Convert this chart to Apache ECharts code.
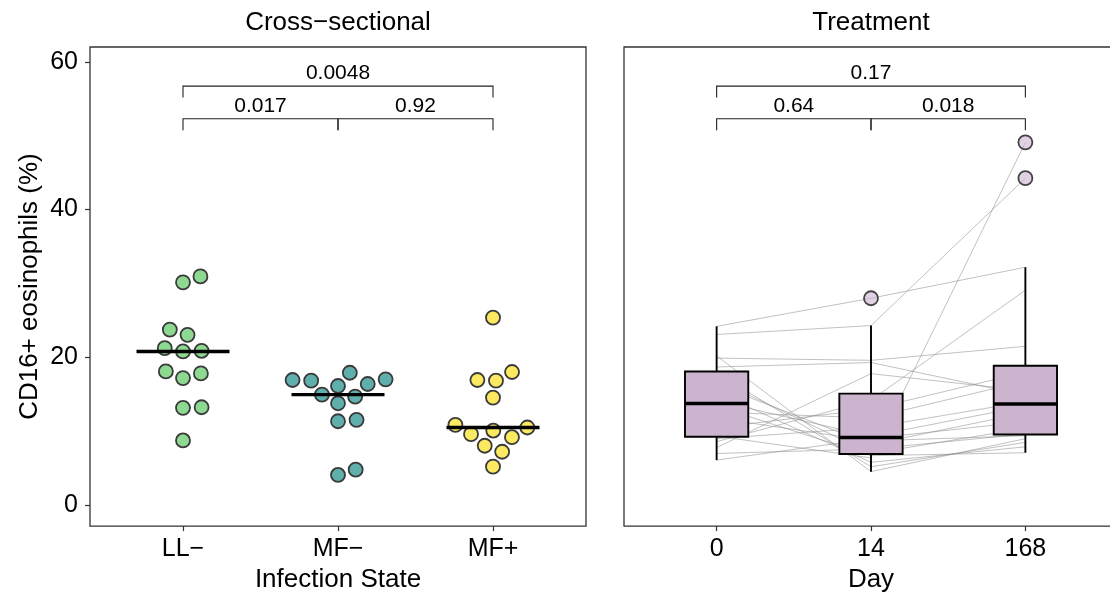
<!DOCTYPE html>
<html>
<head>
<meta charset="utf-8">
<script src="https://cdn.jsdelivr.net/npm/echarts@6/dist/echarts.min.js"></script>
<style>
  html, body { margin: 0; padding: 0; background: #fff; overflow: hidden; width: 1110px; height: 598px; }
  #chart { width: 1130px; height: 598px; }
</style>
</head>
<body>
<div id="chart"></div>
<script>
// ---------------- data ----------------
const panelTitles = ['Cross\u2212sectional', 'Treatment'];
const stateCategories = ['LL\u2212', 'MF\u2212', 'MF+'];
const dayCategories = ['0', '14', '168'];
const yTicks = [0, 20, 40, 60];
const yLabel = 'CD16+ eosinophils (%)';
const xLabelLeft = 'Infection State';
const xLabelRight = 'Day';

// cross-sectional values (%)
const valuesLL = [30.15, 30.96, 23.76, 23.05, 21.25, 20.8, 20.89, 18.1, 17.2, 17.83, 13.17, 13.25, 8.76];
const valuesMFneg = [16.94, 16.85, 16.4, 17.92, 16.13, 17.03, 14.96, 14.69, 13.79, 11.36, 11.55, 4.09, 4.81];
const valuesMFpos = [25.38, 16.94, 16.85, 18.02, 14.56, 10.87, 10.1, 10.51, 9.61, 9.2, 8.04, 7.23, 5.21];

// treatment: paired subject values at day 0, 14, 168
const day0 =   [24.2, 23.1, 9.35, 8.6, 19.9, 18.7, 7.8, 20.2, 17.9, 17.0, 16.3, 15.2, 14.1, 13.4, 12.6, 11.8, 10.5, 9.0, 7.0, 6.1];
const day14 =  [28.0, 24.3, 6.4, 14.2, 19.6, 19.3, 17.8, 4.54, 5.2, 7.0, 8.2, 5.8, 9.32, 6.7, 11.8, 8.7, 13.0, 10.5, 7.6, 9.0];
const day168 = [32.2, 44.25, 49.1, 29.1, 21.5, 14.9, 15.5, 9.0, 8.5, 10.4, 12.5, 7.9, 13.4, 7.1, 16.8, 9.4, 18.0, 14.0, 9.63, 11.3];

// p-value annotations
const pLeft = ['0.017', '0.92', '0.0048'];
const pRight = ['0.64', '0.018', '0.17'];

// ---------------- styling / layout constants ----------------
const FONT = '"Liberation Sans", Arial, Helvetica, sans-serif';
const groupColors = ['#8ED992', '#5FAFAC', '#FBE962'];
const boxFill = '#CDB4CE';
const Y_MIN = -2.83, Y_MAX = 62.0;
const X_MIN = -0.6, X_MAX = 2.6;
const LOW_LEVEL = 52.3, HIGH_LEVEL = 56.7, TICK_LEN = 1.55;
const TICK_FS = 25, TITLE_FS = 26, P_FS = 21;

// ---------------- helpers ----------------
function quantile(sorted, p) {
  const h = (sorted.length - 1) * p;
  const lo = Math.floor(h);
  const hi = Math.min(lo + 1, sorted.length - 1);
  return sorted[lo] + (h - lo) * (sorted[hi] - sorted[lo]);
}
function median(arr) {
  return quantile(arr.slice().sort((a, b) => a - b), 0.5);
}
function boxStats(arr) {
  const s = arr.slice().sort((a, b) => a - b);
  const q1 = quantile(s, 0.25), q3 = quantile(s, 0.75), med = quantile(s, 0.5);
  const iqr = q3 - q1;
  const inside = s.filter(v => v >= q1 - 1.5 * iqr && v <= q3 + 1.5 * iqr);
  return {
    low: inside[0], q1, med, q3, high: inside[inside.length - 1],
    outliers: s.filter(v => v < q1 - 1.5 * iqr || v > q3 + 1.5 * iqr)
  };
}
// beeswarm (swarm method, ascending priority) in data units
const SW_A = 0.12;   // horizontal spacing (category units)
const SW_B = 2.32;   // vertical spacing (y units)
function swarm(values) {
  const order = values.map((v, i) => i).sort((i, j) => values[i] - values[j]);
  const placed = [];
  const offsets = new Array(values.length).fill(0);
  order.forEach(i => {
    const y = values[i];
    const coll = placed.filter(p => Math.abs(p.y - y) < SW_B);
    const cands = [0];
    coll.forEach(p => {
      const dx = SW_A * Math.sqrt(1 - Math.pow((p.y - y) / SW_B, 2));
      cands.push(p.x + dx, p.x - dx);
    });
    const valid = cands.filter(c => coll.every(p =>
      Math.pow((c - p.x) / SW_A, 2) + Math.pow((y - p.y) / SW_B, 2) >= 1 - 1e-6));
    valid.sort((a, b) => (Math.abs(a) - Math.abs(b)) || (b - a));
    const x = valid[0];
    offsets[i] = x;
    placed.push({ x, y });
  });
  return offsets;
}

const groups = [valuesLL, valuesMFneg, valuesMFpos];
const scatterSeries = groups.map((vals, g) => {
  const off = swarm(vals);
  return {
    type: 'scatter', xAxisIndex: 0, yAxisIndex: 0, z: 3,
    symbolSize: 14,
    itemStyle: { color: groupColors[g], borderColor: '#3a3a3a', borderWidth: 1.8, opacity: 1 },
    data: vals.map((v, i) => [g + off[i], v])
  };
});
const medianData = groups.map((vals, g) => [g, median(vals)]);

const days = [day0, day14, day168];
const stats = days.map(boxStats);
const boxData = stats.map((s, i) => [i, s.low, s.q1, s.med, s.q3, s.high]);
const outlierData = [];
stats.forEach((s, i) => s.outliers.forEach(v => outlierData.push([i, v])));
const subjectData = day0.map((v, i) => [v, day14[i], day168[i]]);

const bracketsLeft = [[0, 1, LOW_LEVEL, 0], [1, 2, LOW_LEVEL, 1], [0, 2, HIGH_LEVEL, 2]];
const bracketsRight = [[0, 1, LOW_LEVEL, 0], [1, 2, LOW_LEVEL, 1], [0, 2, HIGH_LEVEL, 2]];

function bracketSeries(axisIdx, data, labels) {
  return {
    type: 'custom', xAxisIndex: axisIdx, yAxisIndex: axisIdx, z: 5,
    data: data,
    renderItem: function (params, api) {
      const a = api.value(0), b = api.value(1), lvl = api.value(2), li = api.value(3);
      const p1 = api.coord([a, lvl]), p2 = api.coord([b, lvl]);
      const t1 = api.coord([a, lvl - TICK_LEN]);
      return {
        type: 'group',
        children: [
          { type: 'polyline', shape: { points: [[p1[0], t1[1]], p1, p2, [p2[0], t1[1]]] },
            style: { stroke: '#222', lineWidth: 1.1, fill: null } },
          { type: 'text', x: (p1[0] + p2[0]) / 2, y: p1[1] - 2,
            style: { text: labels[li], fill: '#000', font: P_FS + 'px ' + FONT,
                     textAlign: 'center', textVerticalAlign: 'bottom' } }
        ]
      };
    }
  };
}

const axisLabelStyle = { color: '#000', fontSize: TICK_FS, fontFamily: FONT };
const nameStyle = { color: '#000', fontSize: TITLE_FS, fontFamily: FONT };
const tickStyle = { show: true, length: 5, inside: false, lineStyle: { color: '#333', width: 1.2 } };

const option = {
  animation: false,
  backgroundColor: '#fff',
  grid: [
    { left: 90, top: 47, width: 496, height: 481, show: true, borderColor: '#333', borderWidth: 1.3, backgroundColor: 'transparent' },
    { left: 624, top: 47, width: 494, height: 481, show: true, borderColor: '#333', borderWidth: 1.3, backgroundColor: 'transparent' }
  ],
  xAxis: [
    { type: 'value', gridIndex: 0, min: X_MIN, max: X_MAX, position: 'bottom',
      axisLine: { show: false, onZero: false }, splitLine: { show: false },
      axisTick: Object.assign({ customValues: [0, 1, 2] }, tickStyle),
      axisLabel: Object.assign({ customValues: [0, 1, 2], margin: 11,
        formatter: v => stateCategories[Math.round(v)] }, axisLabelStyle),
      name: xLabelLeft, nameLocation: 'middle', nameGap: 40, nameTextStyle: nameStyle },
    { type: 'value', gridIndex: 1, min: X_MIN, max: X_MAX, position: 'bottom',
      axisLine: { show: false, onZero: false }, splitLine: { show: false },
      axisTick: Object.assign({ customValues: [0, 1, 2] }, tickStyle),
      axisLabel: Object.assign({ customValues: [0, 1, 2], margin: 11,
        formatter: v => dayCategories[Math.round(v)] }, axisLabelStyle),
      name: xLabelRight, nameLocation: 'middle', nameGap: 40, nameTextStyle: nameStyle }
  ],
  yAxis: [
    { type: 'value', gridIndex: 0, min: Y_MIN, max: Y_MAX, position: 'left',
      axisLine: { show: false, onZero: false }, splitLine: { show: false },
      axisTick: Object.assign({ customValues: yTicks }, tickStyle),
      axisLabel: Object.assign({ customValues: yTicks, margin: 12 }, axisLabelStyle),
      name: yLabel, nameLocation: 'middle', nameGap: 47, nameRotate: 90, nameTextStyle: nameStyle },
    { type: 'value', gridIndex: 1, min: Y_MIN, max: Y_MAX, show: false, splitLine: { show: false } }
  ],
  graphic: [
    { type: 'text', x: 338, y: 23, style: { text: panelTitles[0], fill: '#000', font: TITLE_FS + 'px ' + FONT, textAlign: 'center', textVerticalAlign: 'middle' } },
    { type: 'text', x: 871, y: 23, style: { text: panelTitles[1], fill: '#000', font: TITLE_FS + 'px ' + FONT, textAlign: 'center', textVerticalAlign: 'middle' } }
  ],
  series: [
    ...scatterSeries,
    { type: 'custom', xAxisIndex: 0, yAxisIndex: 0, z: 4, data: medianData,
      renderItem: function (params, api) {
        const g = api.value(0), m = api.value(1);
        const a = api.coord([g - 0.3, m]), b = api.coord([g + 0.3, m]);
        return { type: 'line', shape: { x1: a[0], y1: a[1], x2: b[0], y2: b[1] },
                 style: { stroke: '#000', lineWidth: 3.4 } };
      } },
    bracketSeries(0, bracketsLeft, pLeft),
    // paired subject lines
    { type: 'custom', xAxisIndex: 1, yAxisIndex: 1, z: 1, data: subjectData,
      renderItem: function (params, api) {
        const pts = [0, 1, 2].map(k => api.coord([k, api.value(k)]));
        return { type: 'polyline', shape: { points: pts },
                 style: { stroke: 'rgba(140,140,140,0.6)', lineWidth: 0.9, fill: null } };
      } },
    // boxplots
    { type: 'custom', xAxisIndex: 1, yAxisIndex: 1, z: 2, data: boxData,
      renderItem: function (params, api) {
        const i = api.value(0);
        const lo = api.coord([i, api.value(1)]), q1 = api.coord([i, api.value(2)]);
        const md = api.coord([i, api.value(3)]), q3 = api.coord([i, api.value(4)]);
        const hi = api.coord([i, api.value(5)]);
        const l = api.coord([i - 0.205, 0])[0], r = api.coord([i + 0.205, 0])[0];
        return {
          type: 'group',
          children: [
            { type: 'line', shape: { x1: lo[0], y1: lo[1], x2: q1[0], y2: q1[1] }, style: { stroke: '#000', lineWidth: 1.9 } },
            { type: 'line', shape: { x1: q3[0], y1: q3[1], x2: hi[0], y2: hi[1] }, style: { stroke: '#000', lineWidth: 1.9 } },
            { type: 'rect', shape: { x: l, y: q3[1], width: r - l, height: q1[1] - q3[1] },
              style: { fill: boxFill, stroke: '#000', lineWidth: 1.9 } },
            { type: 'line', shape: { x1: l, y1: md[1], x2: r, y2: md[1] }, style: { stroke: '#000', lineWidth: 3.4 } }
          ]
        };
      } },
    { type: 'scatter', xAxisIndex: 1, yAxisIndex: 1, z: 3, symbolSize: 14, data: outlierData,
      itemStyle: { color: 'rgba(200,172,205,0.55)', borderColor: '#444', borderWidth: 1.8, opacity: 1 } },
    bracketSeries(1, bracketsRight, pRight)
  ]
};

const chart = echarts.init(document.getElementById('chart'), null, { renderer: 'canvas' });
chart.setOption(option);
</script>
</body>
</html>
